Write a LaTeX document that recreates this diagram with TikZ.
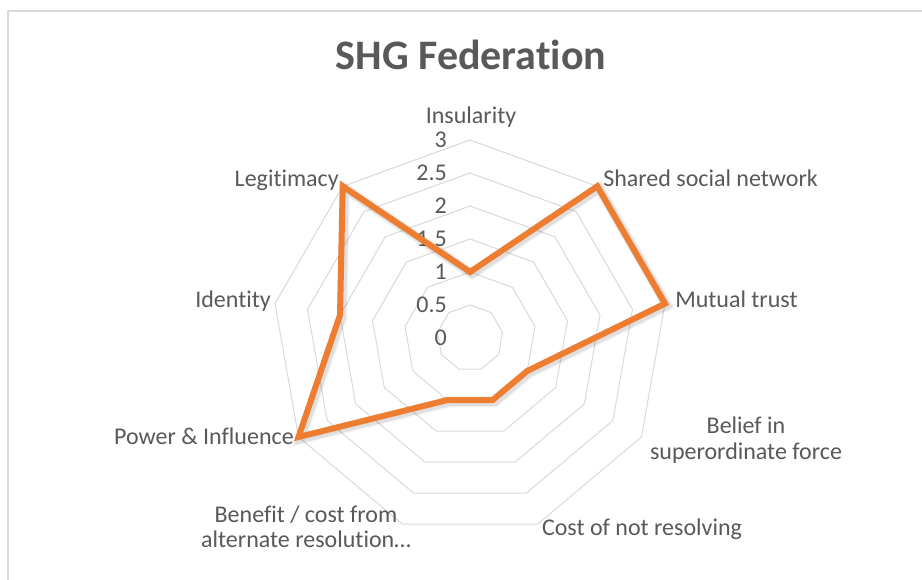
\documentclass[tikz,border=0pt]{standalone}
\usepackage{fontspec}
\setmainfont{Carlito}[RawFeature={-liga;-clig;-dlig;-calt}]
\usetikzlibrary{calc}
\definecolor{txtgray}{HTML}{595959}
\definecolor{gridgray}{HTML}{D9D9D9}
\definecolor{accorange}{HTML}{ED7D31}
\begin{document}
\begin{tikzpicture}[x=0.75pt,y=-0.75pt,
  lbl/.style={text=txtgray,font=\fontsize{18}{19}\selectfont,inner sep=0pt},
  axislbl/.style={text=txtgray,font=\fontsize{18}{19}\selectfont,inner sep=0pt,anchor=base east},
  titlelbl/.style={text=txtgray,font=\fontsize{31.5}{36}\selectfont\bfseries,inner sep=0pt,anchor=base},
  ringline/.style={draw=gridgray,line width=0.75pt},
  frameline/.style={draw=gridgray,line width=1.2pt},
  series/.style={draw=accorange,line width=4.5pt,line join=miter},
  shadowline/.style={draw=black,line join=miter}]
\useasboundingbox (0,0) rectangle (922,580);
\fill[white] (0,0) rectangle (922,580);
% chart frame (only top and left edges are visible)
\coordinate (frameBL) at (8,585);
\coordinate (frameTR) at (930,11);
\draw[frameline] (frameBL) |- (frameTR);
% title
\node[titlelbl] (title) at (471,70) {SHG Federation};
% grid rings
\foreach \k in {1,...,6}{
  \draw[ringline] plot[samples=10,domain=0:360,variable=\a]
    ({470+33*\k*sin(\a)},{338-33*\k*cos(\a)}) -- cycle;
}
% radial axis labels
\foreach \v/\t [count=\k from 0] in {0/0,0.5/0.5,1/1,1.5/1.5,2/2,2.5/2.5,3/3}{
  \node[axislbl] (ax\k) at (447,{338-66*\v+7.5}) {\t};
}
% data points
\foreach \v [count=\i from 0] in {1,3,3,1,1,1,3,2,3}{
  \coordinate (p\i) at ({470+66*\v*sin(40*\i)},{338-66*\v*cos(40*\i)});
}
% shadow
\begin{scope}[transform canvas={shift={(2,2)}}]
  \draw[shadowline,opacity=0.05,line width=8pt] (p0) -- (p1) -- (p2) -- (p3) -- (p4) -- (p5) -- (p6) -- (p7) -- (p8) -- cycle;
  \draw[shadowline,opacity=0.08,line width=6pt] (p0) -- (p1) -- (p2) -- (p3) -- (p4) -- (p5) -- (p6) -- (p7) -- (p8) -- cycle;
\end{scope}
% series
\draw[series] (p0) -- (p1) -- (p2) -- (p3) -- (p4) -- (p5) -- (p6) -- (p7) -- (p8) -- cycle;
% category labels
\node[lbl,anchor=base] (insularity) at (471,124) {Insularity};
\node[lbl,anchor=base west] (shared) at (603,187) {Shared social network};
\node[lbl,anchor=base west] (mutual) at (675,308) {Mutual trust};
\node[lbl,align=center] (belief) at (746,440) {Belief in\\superordinate force};
\node[lbl,anchor=base] (cost) at (642,536) {Cost of not resolving};
\node[lbl,align=center] (benefit) at (306,527) {Benefit / cost from\\alternate resolution…};
\node[lbl,anchor=base east] (power) at (294,445) {Power \& Influence};
\node[lbl,anchor=base east] (identity) at (271,308) {Identity};
\node[lbl,anchor=base east] (legitimacy) at (339,187) {Legitimacy};
\end{tikzpicture}
\end{document}
